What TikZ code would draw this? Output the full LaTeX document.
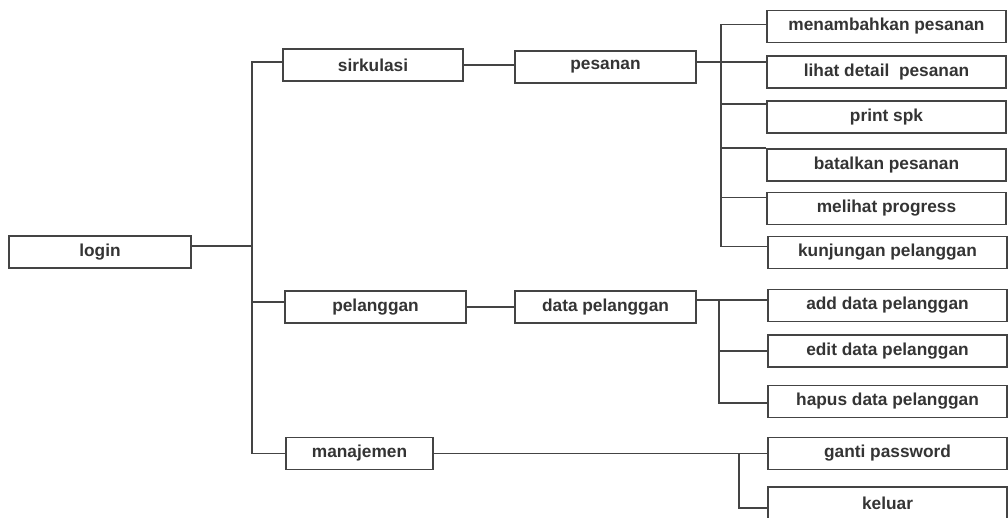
\documentclass[tikz,border=0pt]{standalone}
\usepackage{fontspec}
\setmainfont{Liberation Sans}
\definecolor{boxline}{RGB}{68,68,68}
\definecolor{boxtext}{RGB}{52,52,52}
\begin{document}
\begin{tikzpicture}[x=1pt,y=-1pt]
        \useasboundingbox (0,0) rectangle (1008,518);
        \tikzstyle{every node}=[draw=boxline, line width=1.6pt, fill=white, text=boxtext, font=\fontsize{17.3}{20}\selectfont\bfseries, minimum height=32pt, inner sep=0pt]
        \tikzstyle{wire}=[draw=boxline, line width=1.5pt]
        \node[minimum width=182pt] (login)     at (100,   252)   {login};
        \node[minimum width=180pt] (sirkulasi) at (373,   65)    {sirkulasi};
        \node[minimum width=181pt] (pesanan)   at (605.5, 67)    {pesanan};
        \node[minimum width=181pt] (pelanggan) at (375.5, 307)   {pelanggan};
        \node[minimum width=181pt] (datapel)   at (605.5, 307)   {data pelanggan};
        \node[minimum width=147pt] (manajemen) at (359.5, 453.5) {manajemen};
        \tikzstyle{every node}+=[minimum width=239pt]
        \node (menambah)  at (886.5, 26.5)  {menambahkan pesanan};
        \node (lihat)     at (886.5, 72)    {lihat detail\ \ pesanan};
        \node (print)     at (886.5, 117)   {print spk};
        \node (batal)     at (886.5, 165)   {batalkan pesanan};
        \node (progress)  at (886.5, 208.5) {melihat progress};
        \node (kunjungan) at (887.5, 252.5) {kunjungan pelanggan};
        \node (add)       at (887.5, 305.5) {add data pelanggan};
        \node (edit)      at (887.5, 351)   {edit data pelanggan};
        \node (hapus)     at (887.5, 401.5) {hapus data pelanggan};
        \node (ganti)     at (887.5, 453.5) {ganti password};
        \node (keluar)    at (887.5, 503)   {keluar};
        \coordinate (t1) at (252, 250);
        \coordinate (t2) at (721, 150);
        \coordinate (t3) at (719, 350);
        \coordinate (t4) at (739, 480);
        \draw[wire] ([yshift=3pt]sirkulasi.west) -| (t1) |- (manajemen.west);
        \draw[wire] ([yshift=6pt]login.east) -| (t1);
        \draw[wire] ([yshift=5pt]pelanggan.west) -| (t1);
        \draw[wire] (sirkulasi.east) -- (sirkulasi.east -| pesanan.west);
        \draw[wire] (pelanggan.east) -- (pelanggan.east -| datapel.west);
        \draw[wire] ([yshift=2pt]menambah.west) -| (t2) |- ([yshift=6pt]kunjungan.west);
        \draw[wire] ([yshift=5pt]pesanan.east) -- ([yshift=10pt]lihat.west);
        \draw[wire] ([yshift=13pt]print.west) -| (t2);
        \draw[wire] ([yshift=17pt]batal.west) -| (t2);
        \draw[wire] ([yshift=11pt]progress.west) -| (t2);
        \draw[wire] ([yshift=7pt]datapel.east) -- ([yshift=5.5pt]add.west);
        \draw[wire] ([yshift=5.5pt]add.west) -| (t3) |- ([yshift=-1.5pt]hapus.west);
        \draw[wire] (edit.west) -| (t3);
        \draw[wire] (manajemen.east) -- (ganti.west);
        \draw[wire] ([yshift=-5pt]keluar.west) -| (t4 |- ganti.west);
    \end{tikzpicture}
\end{document}
